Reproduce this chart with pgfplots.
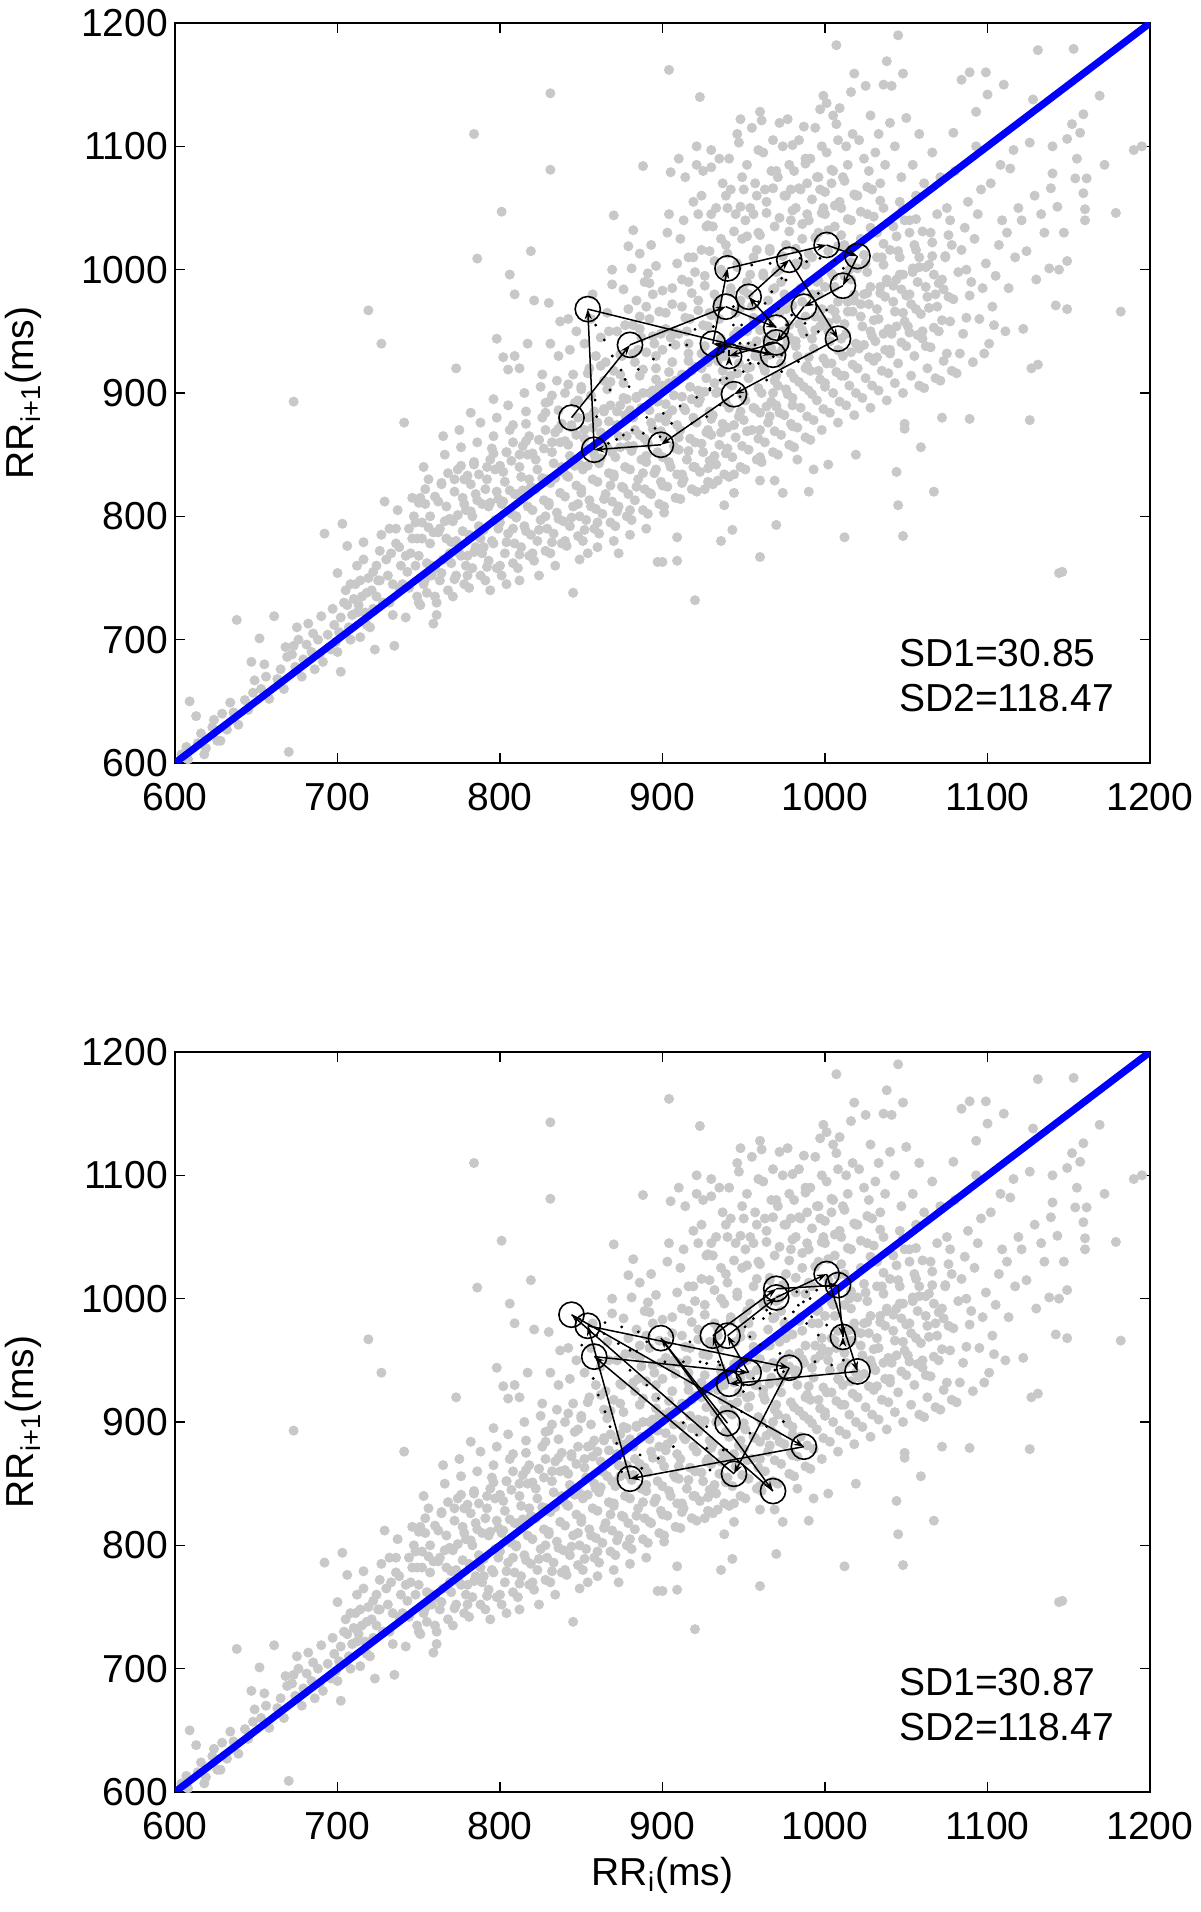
\documentclass[border=0pt]{standalone}
\usepackage{fontspec}
\setmainfont{Liberation Sans}
\usepackage{pgfplots}
\pgfplotsset{compat=1.18}
\usepackage{pgfplotstable}
\usetikzlibrary{arrows.meta}

\definecolor{cloud}{RGB}{200,200,200}
\newcommand{\bigfont}{\fontsize{19.5}{23}\selectfont}

% Poincare cloud (same beats in both panels)
\pgfplotstableread[row sep=\\]{
x y\\
604 607\\ 607 613\\ 609 650\\ 613 638\\ 608 603\\ 614 616\\ 618 607\\ 616 624\\ 619 612\\
623 629\\ 626 618\\ 628 618\\ 624 635\\ 629 640\\ 634 649\\ 638 716\\ 632 627\\ 636 641\\ 639 631\\
643 651\\ 647 682\\ 649 667\\ 645 643\\ 648 657\\ 652 701\\ 653 660\\ 656 670\\ 658 652\\ 655 680\\
661 719\\ 663 668\\ 665 676\\ 667 660\\ 669 686\\ 670 609\\ 668 694\\ 672 688\\ 674 678\\ 676 700\\
678 670\\ 673 695\\ 679 684\\ 675 710\\ 673 893\\ 682 713\\ 684 690\\ 686 676\\ 688 700\\ 681 696\\
689 688\\ 685 705\\ 690 719\\ 692 786\\ 694 704\\ 696 692\\ 698 712\\ 691 682\\ 697 725\\ 699 698\\
700 754\\ 703 794\\ 706 776\\ 702 674\\ 704 730\\ 707 710\\ 709 720\\ 701 706\\ 705 740\\ 708 700\\
711 745\\ 713 728\\ 716 779\\ 718 712\\ 712 760\\ 715 735\\ 719 750\\ 714 702\\ 717 722\\ 719 967\\
723 692\\ 727 940\\ 721 740\\ 724 760\\ 726 772\\ 729 812\\ 722 725\\ 725 748\\ 728 730\\ 727 785\\ 720 710\\
735 695\\ 731 752\\ 733 770\\ 736 790\\ 738 742\\ 732 730\\ 737 805\\ 739 760\\ 734 720\\ 736 778\\
741 876\\ 743 755\\ 745 770\\ 747 800\\ 749 735\\ 742 718\\ 744 790\\ 746 815\\ 748 760\\ 740 745\\ 749 782\\
702 718\\ 706 728\\ 710 733\\ 714 748\\ 718 738\\ 722 755\\ 726 748\\ 730 765\\ 734 745\\ 738 775\\
742 768\\ 746 782\\ 744 742\\ 748 795\\ 712 722\\ 716 765\\ 724 735\\ 732 790\\ 700 690\\ 708 745\\
751 728\\ 753 745\\ 755 762\\ 757 778\\ 759 713\\ 752 795\\ 754 810\\ 756 830\\ 758 752\\ 750 768\\
753 840\\ 757 800\\ 759 787\\ 755 738\\ 751 815\\
761 730\\ 763 748\\ 765 765\\ 767 782\\ 769 798\\ 762 812\\ 764 826\\ 766 850\\ 768 740\\ 760 758\\
763 790\\ 767 808\\ 769 770\\ 761 720\\ 765 865\\ 768 835\\
771 735\\ 773 752\\ 775 770\\ 777 788\\ 779 805\\ 772 820\\ 774 838\\ 776 856\\ 778 745\\ 770 762\\
773 780\\ 777 815\\ 779 760\\ 771 796\\ 775 870\\ 773 920\\ 778 830\\
781 742\\ 783 758\\ 785 775\\ 787 792\\ 789 810\\ 782 826\\ 784 842\\ 786 860\\ 788 752\\ 780 768\\
783 800\\ 787 834\\ 789 770\\ 781 785\\ 785 818\\ 788 876\\ 786 1009\\ 784 1110\\ 782 884\\
791 748\\ 793 764\\ 795 780\\ 797 797\\ 799 814\\ 792 830\\ 794 846\\ 796 865\\ 798 758\\ 790 775\\
793 808\\ 797 838\\ 799 790\\ 791 822\\ 795 855\\ 798 880\\ 794 740\\ 798 944\\ 796 895\\
801 752\\ 803 770\\ 805 786\\ 807 802\\ 809 818\\ 802 836\\ 804 852\\ 806 870\\ 808 762\\ 800 795\\
803 828\\ 807 845\\ 809 778\\ 801 810\\ 805 890\\ 808 860\\ 802 929\\ 809 930\\ 805 919\\ 806 996\\
809 980\\ 801 1047\\ 804 745\\
811 758\\ 813 775\\ 815 792\\ 817 808\\ 819 824\\ 812 840\\ 814 857\\ 816 875\\ 818 768\\ 810 800\\
813 832\\ 817 850\\ 819 785\\ 811 818\\ 815 900\\ 818 865\\ 812 920\\ 817 940\\ 819 1015\\ 816 885\\ 812 748\\
821 764\\ 823 780\\ 825 797\\ 827 813\\ 829 830\\ 822 846\\ 824 862\\ 826 880\\ 828 772\\ 820 805\\
823 838\\ 827 855\\ 829 790\\ 821 822\\ 825 905\\ 828 870\\ 821 975\\ 828 892\\ 824 752\\ 826 915\\
831 770\\ 833 786\\ 835 803\\ 837 819\\ 839 836\\ 832 852\\ 834 868\\ 836 886\\ 838 778\\ 830 811\\
833 843\\ 837 860\\ 839 796\\ 831 827\\ 835 910\\ 838 875\\ 831 940\\ 837 958\\ 830 973\\ 831 1081\\
831 1143\\ 834 760\\ 836 930\\ 832 898\\
841 776\\ 843 792\\ 845 808\\ 847 825\\ 849 842\\ 842 858\\ 844 874\\ 846 892\\ 848 784\\ 840 816\\
843 849\\ 847 866\\ 849 800\\ 841 833\\ 845 915\\ 848 880\\ 845 738\\ 843 935\\ 847 950\\ 840 900\\
849 765\\ 842 960\\
851 780\\ 853 797\\ 855 813\\ 857 830\\ 859 846\\ 852 863\\ 854 880\\ 856 898\\ 858 790\\ 850 822\\
853 855\\ 857 872\\ 859 806\\ 851 838\\ 855 920\\ 858 885\\ 852 940\\ 856 960\\ 859 930\\ 854 770\\
857 980\\ 850 905\\
861 786\\ 863 802\\ 865 818\\ 867 835\\ 869 852\\ 862 868\\ 864 885\\ 866 903\\ 868 795\\ 860 828\\
863 860\\ 867 877\\ 869 812\\ 861 843\\ 865 925\\ 868 890\\ 862 945\\ 866 965\\ 869 1000\\ 870 1044\\
869 988\\ 864 910\\ 860 775\\ 867 950\\
871 792\\ 873 808\\ 875 824\\ 877 840\\ 879 857\\ 872 874\\ 874 890\\ 876 908\\ 878 800\\ 870 832\\
873 865\\ 877 882\\ 879 818\\ 871 848\\ 875 930\\ 878 895\\ 872 950\\ 876 984\\ 879 968\\ 879 1019\\
882 1032\\ 874 915\\ 870 780\\ 877 955\\ 873 770\\
881 797\\ 883 813\\ 885 830\\ 887 846\\ 889 863\\ 882 880\\ 884 896\\ 886 914\\ 888 805\\ 880 838\\
883 870\\ 887 888\\ 889 822\\ 881 853\\ 885 935\\ 888 900\\ 882 955\\ 886 1013\\ 888 1084\\ 881 1001\\
884 975\\ 887 945\\ 880 785\\ 889 990\\ 886 962\\ 883 925\\
891 802\\ 893 818\\ 895 835\\ 897 852\\ 899 869\\ 892 886\\ 894 902\\ 896 920\\ 898 810\\ 890 844\\
893 876\\ 897 893\\ 899 828\\ 891 859\\ 895 940\\ 898 905\\ 892 960\\ 896 1003\\ 891 997\\ 892 989\\
890 970\\ 897 763\\ 894 980\\ 899 948\\ 890 790\\ 896 930\\ 893 1020\\
901 808\\ 903 824\\ 905 840\\ 907 857\\ 909 874\\ 902 891\\ 904 908\\ 906 925\\ 908 815\\ 900 848\\
903 882\\ 907 898\\ 909 834\\ 901 864\\ 905 945\\ 908 910\\ 902 965\\ 906 985\\ 909 1005\\ 905 1079\\
904 1162\\ 910 1090\\ 900 763\\ 909 764\\ 901 803\\ 909 783\\ 903 1030\\ 907 950\\ 904 1045\\ 900 935\\
911 814\\ 913 830\\ 915 846\\ 917 863\\ 919 880\\ 912 897\\ 914 914\\ 916 932\\ 918 822\\ 910 854\\
913 888\\ 917 905\\ 919 840\\ 911 870\\ 915 950\\ 918 918\\ 912 970\\ 916 990\\ 919 1010\\ 914 1075\\
912 827\\ 920 732\\ 921 1085\\ 913 1040\\ 917 960\\ 919 1055\\ 911 1025\\ 916 940\\
921 820\\ 923 836\\ 925 852\\ 927 868\\ 929 885\\ 922 902\\ 924 920\\ 926 938\\ 928 828\\ 920 860\\
923 895\\ 927 912\\ 929 845\\ 921 876\\ 925 955\\ 928 925\\ 922 975\\ 926 995\\ 929 1015\\ 923 1140\\
926 822\\ 928 839\\ 924 1060\\ 927 1035\\ 921 1100\\ 929 965\\ 922 1045\\ 925 1080\\
931 826\\ 933 842\\ 935 858\\ 937 875\\ 939 892\\ 932 908\\ 934 926\\ 936 944\\ 938 834\\ 930 866\\
933 900\\ 937 918\\ 939 851\\ 931 882\\ 935 960\\ 938 930\\ 932 980\\ 936 1000\\ 939 1020\\ 930 1097\\
930 1083\\ 934 829\\ 936 780\\ 938 809\\ 933 1050\\ 937 1070\\ 931 1035\\ 935 1090\\ 939 1060\\ 934 970\\
941 832\\ 943 848\\ 945 864\\ 947 881\\ 949 898\\ 942 914\\ 944 932\\ 946 950\\ 948 840\\ 940 872\\
943 906\\ 947 924\\ 949 857\\ 941 888\\ 945 965\\ 948 936\\ 942 985\\ 946 1005\\ 949 1025\\ 941 1090\\
947 1103\\ 948 1122\\ 943 789\\ 944 819\\ 944 834\\ 945 1045\\ 942 1065\\ 949 1075\\ 940 1050\\ 946 1110\\ 948 975\\
951 838\\ 953 854\\ 955 870\\ 957 887\\ 959 904\\ 952 920\\ 954 938\\ 956 956\\ 958 846\\ 950 878\\
953 912\\ 957 930\\ 959 863\\ 951 894\\ 955 970\\ 958 942\\ 952 990\\ 956 1010\\ 959 1030\\ 959 1097\\
960 1128\\ 960 767\\ 960 829\\ 960 848\\ 954 1050\\ 957 1070\\ 952 1085\\ 955 1115\\ 958 1060\\ 951 1040\\ 953 980\\
961 844\\ 963 860\\ 965 876\\ 967 893\\ 969 910\\ 962 926\\ 964 944\\ 966 962\\ 968 852\\ 960 884\\
963 918\\ 967 936\\ 969 869\\ 961 900\\ 965 975\\ 968 948\\ 962 995\\ 966 1015\\ 969 1035\\ 961 1121\\
966 881\\ 969 829\\ 970 793\\ 970 889\\ 964 1055\\ 967 1080\\ 962 1095\\ 968 1105\\ 963 1065\\ 969 985\\
971 850\\ 973 866\\ 975 882\\ 977 899\\ 979 916\\ 972 932\\ 974 950\\ 976 968\\ 978 858\\ 970 890\\
973 924\\ 977 942\\ 979 875\\ 971 906\\ 975 980\\ 978 955\\ 972 1000\\ 976 1020\\ 979 1040\\ 972 1119\\
977 1122\\ 974 819\\ 980 1101\\ 975 1060\\ 978 1085\\ 971 1075\\ 974 1100\\ 979 1065\\ 973 990\\
981 856\\ 983 872\\ 985 888\\ 987 905\\ 989 922\\ 982 938\\ 984 956\\ 986 974\\ 988 864\\ 980 896\\
983 930\\ 987 948\\ 989 881\\ 981 912\\ 985 985\\ 988 962\\ 982 1005\\ 986 1025\\ 989 1045\\ 987 1116\\
983 846\\ 980 873\\ 990 820\\ 985 1065\\ 988 1090\\ 981 1080\\ 984 1105\\ 989 1070\\ 982 1050\\
991 862\\ 993 878\\ 995 894\\ 997 911\\ 999 928\\ 992 944\\ 994 962\\ 996 980\\ 998 870\\ 990 902\\
993 936\\ 997 954\\ 999 887\\ 991 918\\ 995 990\\ 998 968\\ 992 1010\\ 996 1030\\ 999 1050\\ 999 1141\\
997 1130\\ 993 838\\ 995 1075\\ 998 1100\\ 991 1090\\ 994 1115\\ 997 1065\\ 990 1040\\
1003 884\\ 1005 900\\ 1007 917\\ 1009 934\\ 1002 950\\ 1004 968\\ 1006 986\\ 1008 876\\ 1000 908\\
1003 942\\ 1007 960\\ 1009 893\\ 1001 924\\ 1005 995\\ 1008 974\\ 1002 1015\\ 1006 1035\\ 1009 1055\\
1001 1135\\ 1005 1125\\ 1007 1182\\ 1009 1131\\ 1002 842\\ 1005 1080\\ 1008 1105\\ 1001 1095\\ 1004 1070\\
1007 1118\\ 1000 1045\\
1013 890\\ 1015 906\\ 1017 923\\ 1019 940\\ 1012 956\\ 1014 974\\ 1016 992\\ 1018 882\\ 1010 914\\
1013 948\\ 1017 966\\ 1019 900\\ 1011 930\\ 1015 1000\\ 1018 980\\ 1012 1020\\ 1016 1040\\ 1019 1060\\
1016 1144\\ 1018 1159\\ 1012 783\\ 1019 850\\ 1014 1085\\ 1011 1075\\ 1017 1110\\ 1013 1100\\ 1010 1050\\
1023 896\\ 1025 912\\ 1027 929\\ 1029 946\\ 1022 962\\ 1024 980\\ 1026 998\\ 1028 888\\ 1020 920\\
1023 954\\ 1027 972\\ 1029 906\\ 1021 936\\ 1025 1005\\ 1028 986\\ 1022 1025\\ 1026 1045\\ 1029 1065\\
1025 1149\\ 1028 1125\\ 1024 1090\\ 1021 1105\\ 1027 1080\\ 1020 1060\\
1033 902\\ 1035 918\\ 1037 935\\ 1039 952\\ 1032 968\\ 1034 986\\ 1036 1004\\ 1038 894\\ 1030 926\\
1033 960\\ 1037 978\\ 1031 942\\ 1035 1010\\ 1038 992\\ 1032 1030\\ 1036 1050\\ 1039 916\\ 1036 1150\\
1038 1169\\ 1040 1119\\ 1034 1070\\ 1031 1095\\ 1037 1085\\ 1033 1110\\
1043 908\\ 1045 924\\ 1047 941\\ 1049 958\\ 1042 974\\ 1044 992\\ 1046 1010\\ 1048 900\\ 1040 932\\
1043 966\\ 1047 984\\ 1049 875\\ 1041 948\\ 1045 1015\\ 1048 996\\ 1042 1035\\ 1046 1055\\ 1045 1190\\
1048 1159\\ 1041 1149\\ 1050 1123\\ 1049 871\\ 1045 809\\ 1048 784\\ 1044 836\\ 1047 1075\\ 1043 1100\\ 1049 1040\\
1053 914\\ 1055 930\\ 1057 947\\ 1059 964\\ 1052 980\\ 1054 998\\ 1056 1016\\ 1058 906\\ 1050 938\\
1053 972\\ 1057 990\\ 1059 856\\ 1051 954\\ 1055 1020\\ 1058 1002\\ 1052 1040\\ 1056 1060\\ 1054 1085\\ 1058 1110\\
1061 904\\ 1063 920\\ 1065 937\\ 1067 953\\ 1069 970\\ 1062 986\\ 1064 1004\\ 1066 1022\\ 1068 912\\
1060 944\\ 1063 978\\ 1067 996\\ 1067 820\\ 1062 938\\ 1065 1030\\ 1069 1045\\ 1061 1070\\ 1066 1095\\
1071 910\\ 1073 926\\ 1075 932\\ 1077 958\\ 1079 976\\ 1072 992\\ 1074 1010\\ 1076 1028\\ 1078 918\\
1070 950\\ 1072 880\\ 1073 984\\ 1079 1111\\ 1075 1050\\ 1071 1075\\ 1077 1040\\
1081 916\\ 1083 932\\ 1085 948\\ 1087 961\\ 1089 979\\ 1082 998\\ 1084 1016\\ 1086 1034\\ 1088 1055\\
1089 879\\ 1084 1154\\ 1089 1160\\ 1080 1080\\ 1087 1000\\
1091 925\\ 1093 1128\\ 1095 960\\ 1097 985\\ 1099 1005\\ 1092 1025\\ 1094 1045\\ 1096 1065\\ 1098 932\\
1099 1160\\ 1100 1142\\ 1090 990\\ 1093 1100\\
1101 940\\ 1103 970\\ 1105 995\\ 1107 1020\\ 1109 1040\\ 1102 1070\\ 1110 1150\\ 1104 955\\ 1108 1085\\
1111 950\\ 1114 1082\\ 1116 1097\\ 1113 985\\ 1117 1010\\ 1119 1050\\ 1112 1030\\
1121 1040\\ 1122 952\\ 1126 1103\\ 1127 920\\ 1128 1138\\ 1130 992\\ 1124 1015\\ 1129 1060\\ 1126 878\\ 1131 923\\
1131 1178\\ 1133 1045\\ 1138 1001\\ 1139 1066\\ 1140 1100\\ 1140 1078\\ 1135 1030\\
1142 971\\ 1143 1051\\ 1144 1000\\ 1146 755\\ 1149 1007\\ 1149 968\\ 1149 1106\\ 1144 754\\ 1147 1030\\
1152 1118\\ 1154 1074\\ 1157 1111\\ 1159 1126\\ 1159 1062\\ 1160 1049\\ 1160 1040\\ 1153 1179\\ 1155 1090\\
1161 1074\\ 1169 1141\\ 1179 1046\\ 1182 966\\ 1190 1097\\ 1195 1100\\ 1172 1085\\
750 730\\ 754 749\\ 758 760\\ 752 782\\ 756 791\\ 750 811\\ 754 822\\
760 735\\ 764 754\\ 768 765\\ 762 787\\ 766 796\\ 760 816\\ 764 827\\
772 749\\ 776 768\\ 770 779\\ 774 801\\ 778 810\\ 772 830\\ 776 841\\
780 752\\ 784 771\\ 788 782\\ 782 804\\ 786 813\\ 780 833\\ 784 844\\
792 759\\ 796 778\\ 790 789\\ 794 811\\ 798 820\\ 792 840\\ 796 851\\
800 760\\ 804 779\\ 808 790\\ 802 812\\ 806 821\\ 800 841\\ 804 852\\ 808 874\\
812 769\\ 816 788\\ 810 799\\ 814 821\\ 818 830\\ 812 850\\ 816 861\\
820 770\\ 824 789\\ 828 800\\ 822 822\\ 826 831\\ 820 851\\ 824 862\\ 828 884\\
832 779\\ 836 798\\ 830 809\\ 834 831\\ 838 840\\ 832 860\\ 836 871\\ 830 893\\
840 780\\ 844 799\\ 848 810\\ 842 832\\ 846 841\\ 840 861\\ 844 872\\ 848 894\\ 842 907\\
852 789\\ 856 808\\ 850 819\\ 854 841\\ 858 850\\ 852 870\\ 856 881\\ 850 903\\ 854 916\\
860 795\\ 864 814\\ 868 825\\ 862 847\\ 866 856\\ 860 876\\ 864 887\\ 868 909\\ 862 922\\
872 804\\ 876 823\\ 870 834\\ 874 856\\ 878 865\\ 872 885\\ 876 896\\ 870 918\\ 874 931\\
880 805\\ 884 824\\ 888 835\\ 882 857\\ 886 866\\ 880 886\\ 884 897\\ 888 919\\ 882 932\\ 886 952\\
892 819\\ 896 838\\ 890 849\\ 894 871\\ 898 880\\ 892 900\\ 896 911\\ 890 933\\ 894 946\\ 898 966\\
900 825\\ 904 844\\ 908 855\\ 902 877\\ 906 886\\ 900 906\\ 904 917\\ 908 939\\ 902 952\\ 906 972\\ 900 983\\
912 834\\ 916 853\\ 910 864\\ 914 886\\ 918 895\\ 912 915\\ 916 926\\ 910 948\\ 914 961\\ 918 981\\ 912 992\\ 916 1010\\
920 840\\ 924 859\\ 928 870\\ 922 892\\ 926 901\\ 920 921\\ 924 932\\ 928 954\\ 922 967\\ 926 987\\ 920 998\\ 924 1016\\ 928 1036\\
932 849\\ 936 868\\ 930 879\\ 934 901\\ 938 910\\ 932 930\\ 936 941\\ 930 963\\ 934 976\\ 938 996\\ 932 1007\\ 936 1025\\ 930 1045\\
940 855\\ 944 874\\ 948 885\\ 942 907\\ 946 916\\ 940 936\\ 944 947\\ 948 969\\ 942 982\\ 946 1002\\ 940 1013\\ 944 1031\\ 948 1051\\
952 869\\ 956 888\\ 950 899\\ 954 921\\ 958 930\\ 952 950\\ 956 961\\ 950 983\\ 954 996\\ 958 1016\\ 952 1027\\ 956 1045\\ 950 1065\\
960 870\\ 964 889\\ 968 900\\ 962 922\\ 966 931\\ 960 951\\ 964 962\\ 968 984\\ 962 997\\ 966 1017\\ 960 1028\\ 964 1046\\ 968 1066\\
972 884\\ 976 903\\ 970 914\\ 974 936\\ 978 945\\ 972 965\\ 976 976\\ 970 998\\ 974 1011\\ 978 1031\\ 972 1042\\ 976 1060\\ 970 1080\\
980 890\\ 984 909\\ 988 920\\ 982 942\\ 986 951\\ 980 971\\ 984 982\\ 988 1004\\ 982 1017\\ 986 1037\\ 980 1048\\ 984 1066\\ 988 1086\\
992 899\\ 996 918\\ 990 929\\ 994 951\\ 998 960\\ 992 980\\ 996 991\\ 990 1013\\ 994 1026\\ 998 1046\\ 992 1057\\ 996 1075\\
1000 905\\ 1004 924\\ 1008 935\\ 1002 957\\ 1006 966\\ 1000 986\\ 1004 997\\ 1008 1019\\ 1002 1032\\ 1006 1052\\ 1000 1063\\ 1004 1081\\
1012 914\\ 1016 933\\ 1010 944\\ 1014 966\\ 1018 975\\ 1012 995\\ 1016 1006\\ 1010 1028\\ 1014 1041\\ 1018 1061\\ 1012 1072\\
1020 920\\ 1024 939\\ 1028 950\\ 1022 972\\ 1026 981\\ 1020 1001\\ 1024 1012\\ 1028 1034\\ 1022 1047\\ 1026 1067\\
1032 929\\ 1036 948\\ 1030 959\\ 1034 981\\ 1038 990\\ 1032 1010\\ 1036 1021\\ 1030 1043\\ 1034 1056\\
1040 935\\ 1044 954\\ 1048 965\\ 1042 987\\ 1046 996\\ 1040 1016\\ 1044 1027\\ 1048 1049\\
1052 949\\ 1056 968\\ 1050 979\\ 1054 1001\\ 1058 1010\\ 1052 1030\\ 1056 1041\\
1060 950\\ 1064 969\\ 1068 980\\ 1062 1002\\ 1066 1011\\ 1060 1031\\
1072 959\\ 1076 978\\ 1070 989\\ 1074 1011\\ 1078 1020\\
}\cloud

% top panel: 20 beats, arrows from (RR_k,RR_k+1) to the next point
\pgfplotstableread[row sep=\\]{
x y u v\\
844 880 36 59\\ 880 939 59 31\\ 939 970 31 -17\\ 970 953 -17 25\\ 953 978 25 30\\
978 1008 30 -64\\ 1008 944 -64 -45\\ 944 899 -45 -41\\ 899 858 -41 -4\\ 858 854 -4 114\\
854 968 114 -37\\ 968 931 -37 9\\ 931 940 9 61\\ 940 1001 61 19\\ 1001 1020 19 -9\\
1020 1011 -9 -24\\ 1011 987 -24 -17\\ 987 970 -17 -29\\ 970 941 -29 -11\\ 941 930 0 0\\
}\segA

% bottom panel: shuffled beats
\pgfplotstableread[row sep=\\]{
x y u v\\
940 899 -41 69\\ 899 968 69 -124\\ 968 844 -124 143\\ 844 987 143 -107\\ 987 880 -107 -26\\
880 854 -26 124\\ 854 978 124 -34\\ 978 944 -34 -86\\ 944 858 -86 95\\ 858 953 95 -13\\
953 940 -13 30\\ 940 970 30 31\\ 970 1001 31 19\\ 1001 1020 19 -79\\ 1020 941 -79 -10\\
941 931 -10 39\\ 931 970 39 38\\ 970 1008 38 3\\ 1008 1011 3 -42\\ 1011 969 0 0\\
}\segB

\pgfplotstableread[row sep=\\]{
x y\\
858.9 955.1\\ 864.2 943\\ 869.1 930\\ 874.5 918.6\\ 877 911\\ 885.1 919.2\\ 879.4 905.1\\ 867.7 902.4\\
894.4 927.5\\ 904.6 938.9\\ 914.9 938.9\\ 920 951.6\\ 929.2 902.4\\ 921 896.5\\ 910.8 889.4\\ 900.5 883.5\\
890.3 880.2\\ 881.4 870\\ 875.9 865.9\\ 871.8 862.4\\ 866.7 859.2\\ 895.4 871.3\\ 905.6 875.4\\ 918 875.4\\
927.2 880.8\\ 898.5 864.6\\ 888.2 867.3\\ 935.4 910.5\\ 944.6 918.6\\ 952.8 926.7\\ 937.4 933.5\\ 858.5 894.3\\
859.5 880.8\\ 954.9 1003.8\\ 966.2 1005.1\\ 988.7 1006.5\\ 996.9 1009.2\\ 1006.2 1007.8\\ 984.6 1009.2\\
973.3 993\\ 976 991.6\\ 967.2 982.1\\ 959 974\\ 963.1 972.7\\ 971.3 968.6\\ 979.5 963.2\\ 987.7 956.5\\
995.9 980.8\\ 1011.3 1001.1\\ 1001 967.3\\ 948.7 955.1\\ 943.6 955.1\\ 952.8 940.3\\ 956.9 938.9\\
947.7 940.3\\ 953.9 924\\ 959 924\\ 949.7 917.3\\ 973.3 917.3\\ 983.6 925.4\\ 995.9 949.7\\ 939.5 911.9\\
929.2 903.8\\ 964.1 910.5\\ 973.3 930.8\\ 935.4 890.3\\ 947.7 897\\ 931.3 953.8\\ 943.6 970\\ 934.4 961.9\\
968.2 929.4\\ 976.4 955.1\\ 988.7 947\\
}\dotsA

\pgfplotstableread[row sep=\\]{
x y\\
864.6 980.6\\ 874.9 977.1\\ 885.1 973.1\\ 864 971.7\\ 859.5 970.4\\ 872.8 963.6\\ 880 958.2\\ 884.1 957.4\\
850.3 962.3\\ 890.3 965\\ 916.9 965\\ 901.5 948.8\\ 912.8 948.8\\ 923.1 948.8\\ 934.4 948.8\\ 857.4 935.3\\
880 942\\ 890.3 929.9\\ 860.5 921.8\\ 864.6 908.3\\ 897.4 919.1\\ 912.8 899.4\\ 867.7 896.2\\ 871.8 882.7\\
921 889.5\\ 927.2 896.2\\ 873.8 870.6\\ 886.2 873.3\\ 897.4 870.6\\ 906.7 880\\ 937.4 877.3\\ 929.2 861.1\\
887.2 862.5\\ 874.9 859.8\\ 982.6 1005.5\\ 988.7 1005.5\\ 990.8 1000.1\\ 994.9 1006.9\\ 983.6 994.7\\
986.7 997.4\\ 964.1 990.7\\ 966.2 988\\ 955.9 983.9\\ 962.1 983.9\\ 975.4 983.9\\ 980.5 989.3\\ 991.8 985.3\\
988.7 979.9\\ 995.9 970.5\\ 1001 978.6\\ 953.8 969.1\\ 960 962.4\\ 950.8 977.2\\ 972.3 955.6\\ 993.8 948.9\\
1004.1 946.2\\ 1011.3 950.2\\ 969.2 942.1\\ 974.4 940.8\\ 955.9 935.4\\ 949.8 930\\ 960 927.3\\ 949.8 924.6\\
942.6 912.5\\ 948.7 908.4\\ 927.2 947.5\\ 935.4 946.2\\ 953.8 890.9\\ 964.1 896.3\\ 974.4 900.3\\ 927.2 878.7\\
939.5 877.4\\
}\dotsB

\pgfplotsset{
  rrplot/.style={
    scale only axis, width=487.5pt, height=370pt,
    xmin=600, xmax=1200, ymin=600, ymax=1200,
    xtick={600,700,...,1200}, ytick={600,700,...,1200},
    clip mode=individual,
    tick align=inside, major tick length=5pt,
    axis line style={line width=0.6pt},
    tick style={black, line width=0.6pt},
    tick label style={font=\bigfont},
    /pgf/number format/assume math mode=true,
    /pgf/number format/1000 sep={},
    xticklabel style={yshift=-6.5pt},
    ylabel={RR\textsubscript{i+1}(ms)},
    every axis y label/.style={at={(axis description cs:-0.155,0.5)}, rotate=90, anchor=center, font=\bigfont},
  },
  cloudpts/.style={only marks, mark=*, mark size=2.3pt, color=cloud, mark options={draw=none, fill=cloud}},
  beatdots/.style={only marks, mark=*, mark size=0.5pt, black},
  beatarrows/.style={black, line width=0.75pt, quiver={u=\thisrow{u}, v=\thisrow{v}},
    -{Stealth[length=5pt, width=3.5pt]}},
  beatcircles/.style={only marks, mark=o, mark size=6.3pt, black, mark options={line width=0.8pt}},
}
\tikzset{sdtext/.style={anchor=base west, inner sep=0pt, font=\bigfont}}

\begin{document}
\begin{tikzpicture}
\path[use as bounding box] (0,0) rectangle (600pt,956pt);

\begin{axis}[rrplot, at={(87.5pt,574.5pt)}, anchor=south west]
  \addplot[cloudpts] table {\cloud};
  \addplot[blue, line width=3.6pt] coordinates {(600,600) (1200,1200)};
  \addplot[beatdots] table {\dotsA};
  \addplot[beatarrows] table {\segA};
  \addplot[beatcircles] table[x=x, y=y] {\segA};
  \node[sdtext] at (axis cs:1045.4,678.4) {SD1=30.85};
  \node[sdtext] at (axis cs:1045.4,641.9) {SD2=118.47};
\end{axis}

\begin{axis}[rrplot, at={(87.5pt,60pt)}, anchor=south west,
    xlabel={RR\textsubscript{i}(ms)},
    every axis x label/.style={at={(axis description cs:0.5,-0.126)}, anchor=base, font=\bigfont}]
  \addplot[cloudpts] table {\cloud};
  \addplot[blue, line width=3.6pt] coordinates {(600,600) (1200,1200)};
  \addplot[beatdots] table {\dotsB};
  \addplot[beatarrows] table {\segB};
  \addplot[beatcircles] table[x=x, y=y] {\segB};
  \node[sdtext] at (axis cs:1045.4,678.4) {SD1=30.87};
  \node[sdtext] at (axis cs:1045.4,641.9) {SD2=118.47};
\end{axis}
\end{tikzpicture}
\end{document}
